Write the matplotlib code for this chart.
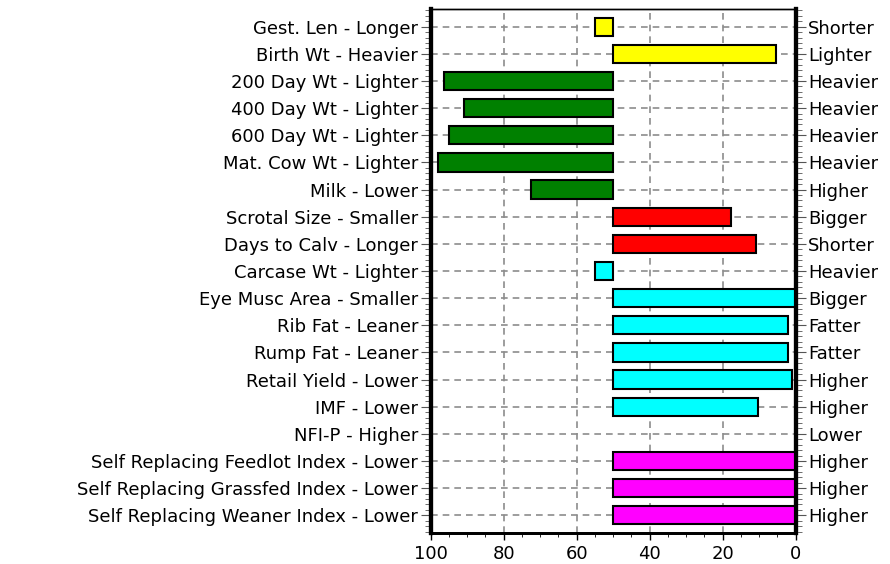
import matplotlib.pyplot as plt
import numpy as np
from matplotlib.ticker import MultipleLocator

plt.rcParams['font.family'] = ['DejaVu Sans']

left_labels = ['Gest. Len - Longer', 'Birth Wt - Heavier', '200 Day Wt - Lighter',
               '400 Day Wt - Lighter', '600 Day Wt - Lighter', 'Mat. Cow Wt - Lighter',
               'Milk - Lower', 'Scrotal Size - Smaller', 'Days to Calv - Longer',
               'Carcase Wt - Lighter', 'Eye Musc Area - Smaller', 'Rib Fat - Leaner',
               'Rump Fat - Leaner', 'Retail Yield - Lower', 'IMF - Lower', 'NFI-P - Higher',
               'Self Replacing Feedlot Index - Lower', 'Self Replacing Grassfed Index - Lower',
               'Self Replacing Weaner Index - Lower']
right_labels = ['Shorter', 'Lighter', 'Heavier', 'Heavier', 'Heavier', 'Heavier', 'Higher',
                'Bigger', 'Shorter', 'Heavier', 'Bigger', 'Fatter', 'Fatter', 'Higher',
                'Higher', 'Lower', 'Higher', 'Higher', 'Higher']
# percentile where each bar ends (bars start at 50)
values = [55, 5.5, 96.4, 91, 95, 98, 72.4, 17.7, 10.8, 55, 0, 2.1, 2.1, 1.1, 10.2, 50, 0, 0, 0]
colors = ['#ffff00', '#ffff00', '#008000', '#008000', '#008000', '#008000', '#008000',
          '#ff0000', '#ff0000', '#00ffff', '#00ffff', '#00ffff', '#00ffff', '#00ffff',
          '#00ffff', '#00ffff', '#ff00ff', '#ff00ff', '#ff00ff']

y = np.arange(len(left_labels))

fig, ax = plt.subplots(figsize=(8.9, 5.64), dpi=100)
fig.subplots_adjust(left=0.484, right=0.894, top=0.984, bottom=0.055)

for yi, v, c in zip(y, values, colors):
    if v != 50:
        ax.barh(yi, v - 50, left=50, height=0.67, color=c, edgecolor='black',
                linewidth=1.5, zorder=3)

ax.set_xlim(100, 0)
ax.set_ylim(len(y) - 0.35, -0.65)
ax.set_xticks([100, 80, 60, 40, 20, 0])
ax.xaxis.set_minor_locator(MultipleLocator(5))
ax.set_yticks(y)
ax.set_yticklabels(left_labels, fontsize=13)
ax.yaxis.set_minor_locator(MultipleLocator(0.2))
ax.tick_params(axis='x', labelsize=13, length=5, width=1)
ax.tick_params(axis='x', which='minor', length=3)
ax.tick_params(axis='y', which='major', length=7, color='#555555', pad=2)
ax.tick_params(axis='y', which='minor', length=4, color='#555555')

ax.grid(True, which='major', color='#8c8c8c', linestyle=(0, (4, 3)), linewidth=1.2, zorder=0)
ax.set_axisbelow(True)

ax2 = ax.twinx()
ax2.set_ylim(ax.get_ylim())
ax2.set_yticks(y)
ax2.set_yticklabels(right_labels, fontsize=13)
ax2.yaxis.set_minor_locator(MultipleLocator(0.2))
ax2.tick_params(axis='y', which='major', length=7, color='#555555', pad=2)
ax2.tick_params(axis='y', which='minor', length=4, color='#555555')

for a in (ax, ax2):
    a.spines['left'].set_linewidth(3)
    a.spines['right'].set_linewidth(3)
    a.spines['bottom'].set_linewidth(2)
    a.spines['top'].set_linewidth(1)

plt.savefig('out.png', dpi=100)
